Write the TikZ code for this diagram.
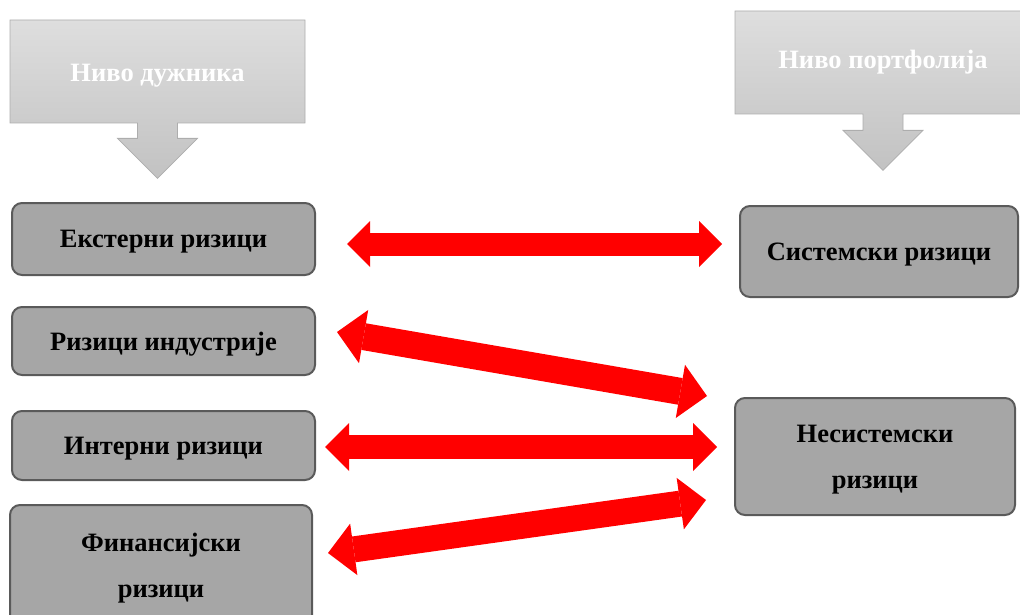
\documentclass[tikz,border=0pt]{standalone}
\usepackage{fontspec}
\setmainfont{Liberation Serif}
\usetikzlibrary{arrows.meta, shapes.arrows}
\definecolor{boxgray}{HTML}{A6A6A6}
\definecolor{boxline}{HTML}{5A5A5A}
\definecolor{headtop}{HTML}{DEDEDE}
\definecolor{headbot}{HTML}{C2C2C2}
\definecolor{headline}{HTML}{ADADAD}

\begin{document}
\begin{tikzpicture}[x=1pt, y=-1pt,
    level/.style = {arrow box, arrow box arrows={south:55pt}, arrow box shaft width=40pt,
      arrow box head extend=20pt, draw=headline, line width=0.8pt, top color=headtop,
      bottom color=headbot, text=white, inner sep=0pt, text depth=0pt,
      font=\fontsize{26.5}{30}\selectfont\bfseries},
    risk/.style = {draw=boxline, line width=2pt, fill=boxgray, rounded corners=10pt,
      align=center, inner sep=0pt, text depth=0pt, font=\fontsize{26.5}{46}\selectfont\bfseries},
    link/.style = {draw=red, line width=#1,
      {Triangle[width=2*#1, length=#1, line width=0pt]}-{Triangle[width=2*#1, length=#1, line width=0pt]}},
    link/.default = 23pt]

      \useasboundingbox (0,0) rectangle (1020,615);
      \clip (0,0) rectangle (1020,615);

      \node[level, minimum width=295pt, minimum height=103pt] (LVL_0) at (157.5,71.5) {\raisebox{-2pt}{Ниво дужника}};
      \node[level, minimum width=296pt, minimum height=103pt, arrow box arrows={south:56pt}] (LVL_1) at (883,62.5) {\raisebox{6pt}{Ниво портфолија}};

      \node[risk, minimum width=303pt, minimum height=72pt] (RISK_0) at (163.5,239) {Екстерни ризици};
      \node[risk, minimum width=303pt, minimum height=68pt] (RISK_1) at (163.5,341) {Ризици индустрије};
      \node[risk, minimum width=303pt, minimum height=69pt] (RISK_2) at (163.5,445.5) {Интерни ризици};
      \node[risk, minimum width=302pt, minimum height=120pt] (RISK_3) at (161,565) {Финансијски\\ризици};

      \node[risk, minimum width=278pt, minimum height=91pt] (SYS_0) at (879,251.5) {Системски ризици};
      \node[risk, minimum width=280pt, minimum height=117pt] (SYS_1) at (875,456.5) {Несистемски\\ризици};

      \coordinate (ARR_0_l) at (347,244);
      \coordinate (ARR_0_r) at (722,244);
      \coordinate (ARR_1_l) at (337,332);
      \coordinate (ARR_1_r) at (707,396);
      \coordinate (ARR_2_l) at (325,447);
      \coordinate (ARR_2_r) at (717,447);
      \coordinate (ARR_3_l) at (328,553);
      \coordinate (ARR_3_r) at (706,500);

      \draw[link] (ARR_0_l) to (ARR_0_r);
      \draw[link=27pt] (ARR_1_l) to (ARR_1_r);
      \draw[link=24pt] (ARR_2_l) to (ARR_2_r);
      \draw[link=26pt] (ARR_3_l) to (ARR_3_r);

\end{tikzpicture}
\end{document}
